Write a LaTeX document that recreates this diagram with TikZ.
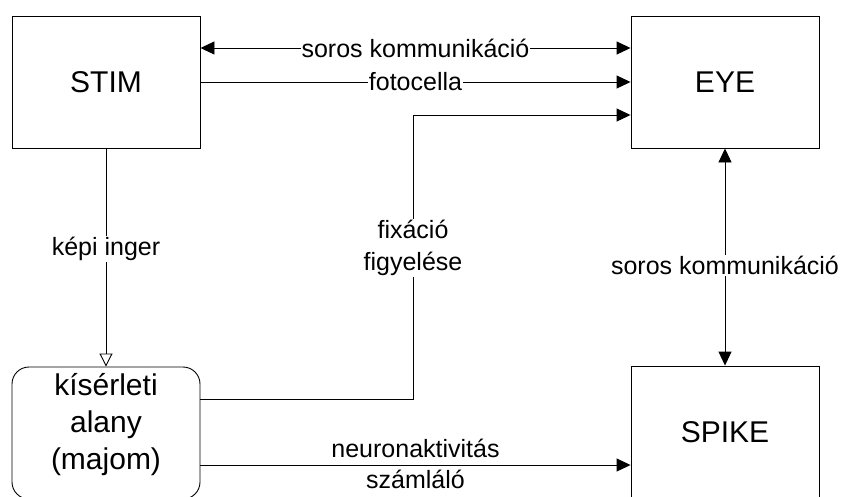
\documentclass[tikz,border=0pt]{standalone}
\usepackage{fontspec}
\setmainfont{Liberation Sans}
\usetikzlibrary{arrows.meta}
\begin{document}
\begin{tikzpicture}[x=1pt,y=-1pt,
  line width=0.9pt,
  boxstyle/.style={draw, minimum width=188pt, minimum height=132pt, inner sep=0pt,
    font=\fontsize{30}{37}\selectfont, align=center},
  lbl/.style={font=\fontsize{25}{32}\selectfont, fill=white, inner sep=1pt, align=center},
  lblnf/.style={font=\fontsize{25}{32}\selectfont, inner sep=0pt},
  tip/.style={-{Triangle[length=14pt,width=13pt]}},
  tiptwo/.style={{Triangle[length=14pt,width=13pt]}-{Triangle[length=14pt,width=13pt]}},
  opentip/.style={-{Triangle[open,length=13pt,width=13pt]}}
]
\clip (0,0) rectangle (843,496);
\fill[white] (0,0) rectangle (843,496);

\node[boxstyle] (stim) at (106,82) {STIM};
\node[boxstyle] (eye) at (725,82) {EYE};
\node[boxstyle, rounded corners=17pt] (kis) at (106,433) {};
\node[font=\fontsize{30}{37}\selectfont, align=center] (kistxt) at (106,425) {kísérleti\\alany\\(majom)};
\node[boxstyle, minimum height=133pt] (spike) at (725,432.5) {SPIKE};

% top connectors
\draw[tiptwo] ([yshift=34pt]stim.east) -- ([yshift=34pt]eye.west)
  node[midway, lbl] (l1) {soros kommunikáció};
\draw[tip] (stim.east) -- (eye.west)
  node[midway, lbl] (l2) {fotocella};

% fixation line
\coordinate (f0) at ([yshift=34pt]kis.east);
\coordinate (f1) at ([yshift=-33pt]eye.west);
\coordinate (fc) at (413,399);
\draw[tip] (f0) -- (fc) |- (f1);
\node[lbl] (l3) at (413,248) {fixáció\\figyelése};

% kepi inger
\draw[opentip] (stim.south) -- (kis.north)
  node[pos=0.46, lbl] (l4) {képi inger};

% eye-spike
\draw[tiptwo] (eye.south) -- (spike.north)
  node[pos=0.54, lbl] (l5) {soros kommunikáció};

% neuron
\coordinate (n0) at ([yshift=-32pt]kis.east);
\draw[tip] (n0) -- (n0 -| spike.west)
  node[midway, lblnf, anchor=base, yshift=8pt] (l6) {neuronaktivitás}
  node[midway, lblnf, anchor=base, yshift=-23pt] (l7) {számláló};
\end{tikzpicture}
\end{document}
